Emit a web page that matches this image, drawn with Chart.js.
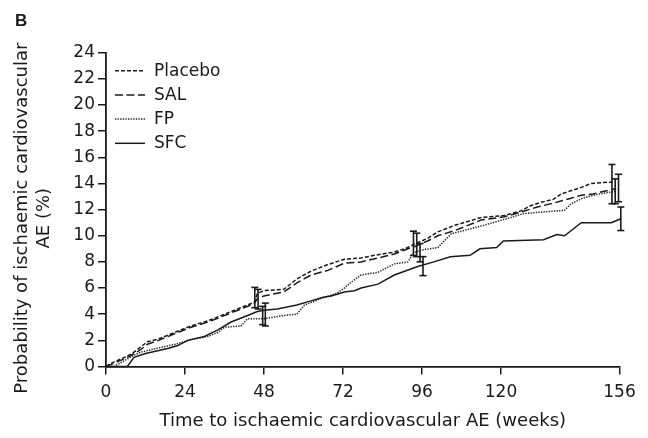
<!DOCTYPE html>
<html>
<head>
<meta charset="utf-8">
<script src="https://cdn.jsdelivr.net/npm/chart.js@4/dist/chart.umd.min.js"></script>
<style>
  html, body { margin: 0; padding: 0; background: #fff; }
  #wrap { width: 648px; height: 438px; }
</style>
</head>
<body>
<div id="wrap"><canvas id="c" width="648" height="438"></canvas></div>
<script>
// ---- Data ----
const panelLabel = 'B';
const seriesNames = ['Placebo', 'SAL', 'FP', 'SFC'];
const xTickValues = [0, 24, 48, 72, 96, 120, 156];
const xTitle = 'Time to ischaemic cardiovascular AE (weeks)';
const yTitle = ['Probability of ischaemic cardiovascular   ', 'AE (%)   '];

const placeboWeeks  = [0, 2, 5.6, 8, 10.6, 12.6, 16, 20.8, 25.8, 31, 36, 41, 45, 46, 48, 54, 58, 62.3, 67.4, 72.4, 77.5, 82.6, 87.6, 91.7, 94, 97.7, 100.8, 106, 114, 121, 126, 129, 132, 136, 138.3, 144.4, 147.4, 153, 154];
const placeboValues = [0, 0.3, 0.7, 1.0, 1.5, 1.9, 2.1, 2.6, 3.1, 3.5, 4.0, 4.5, 4.9, 5.6, 5.8, 5.9, 6.7, 7.3, 7.8, 8.2, 8.3, 8.55, 8.75, 9.1, 9.4, 9.8, 10.3, 10.8, 11.4, 11.55, 11.9, 12.3, 12.55, 12.8, 13.2, 13.7, 14.0, 14.1, 14.1];

const salWeeks  = [0, 2, 5.6, 8, 10.6, 12.6, 16, 20.8, 25.8, 31, 36, 41, 45, 46, 48, 54, 58, 62.3, 67.4, 72.4, 77.5, 82.6, 87.6, 91.7, 94, 97.7, 100.8, 106, 114, 121, 126, 131, 136, 141, 144.4, 148, 153, 155];
const salValues = [0, 0.2, 0.6, 0.9, 1.3, 1.7, 2.0, 2.5, 3.0, 3.4, 3.9, 4.4, 4.8, 5.2, 5.4, 5.7, 6.4, 7.0, 7.35, 7.9, 8.0, 8.3, 8.6, 9.0, 9.2, 9.6, 10.0, 10.4, 11.2, 11.45, 11.8, 12.2, 12.5, 12.85, 13.1, 13.2, 13.5, 13.6];

const fpWeeks  = [0, 2.5, 5.6, 8, 10.6, 15.7, 21.8, 25.8, 31, 34, 36, 41, 43, 48, 54, 58, 60.3, 66.4, 70.2, 72.4, 74.5, 77.5, 82.6, 87.6, 91.7, 93.5, 95.7, 100.8, 104.9, 114.8, 123, 127, 139.3, 141.3, 145, 150, 154.7];
const fpValues = [0, 0, 0.45, 0.8, 1.1, 1.4, 1.75, 2.05, 2.3, 2.6, 3.0, 3.1, 3.65, 3.65, 3.9, 4.0, 4.7, 5.3, 5.6, 6.0, 6.45, 7.0, 7.2, 7.85, 8.0, 8.7, 8.9, 9.1, 10.15, 10.8, 11.4, 11.7, 11.95, 12.45, 12.9, 13.2, 13.4];

const sfcWeeks  = [0, 6.5, 8.5, 12, 15.7, 19, 21.8, 24.8, 29.9, 34, 38, 43, 46, 48, 52, 58, 62, 66, 68.4, 72.4, 75.5, 77.5, 82.6, 87.6, 94.7, 99.6, 104.6, 110.6, 113.6, 118.7, 120.7, 132.9, 137, 139.3, 144.4, 153.5, 156.4];
const sfcValues = [0, 0, 0.7, 1.0, 1.2, 1.4, 1.6, 2.0, 2.3, 2.8, 3.4, 3.9, 4.2, 4.3, 4.4, 4.7, 5.0, 5.3, 5.4, 5.7, 5.8, 6.0, 6.3, 7.0, 7.65, 8.0, 8.4, 8.5, 9.0, 9.1, 9.6, 9.7, 10.1, 10.0, 11.0, 11.0, 11.3];

// error bars (week position, low, high) per series
const placeboErrWeeks = [45.2, 93.4, 153.7];
const placeboErrLow   = [4.5, 8.5, 12.45];
const placeboErrHigh  = [6.05, 10.35, 15.45];
const salErrWeeks = [46.2, 94.4, 155.7];
const salErrLow   = [4.4, 8.4, 12.6];
const salErrHigh  = [5.9, 10.2, 14.7];
const fpErrWeeks = [47.6, 95.4, 154.7];
const fpErrLow   = [3.2, 8.0, 12.45];
const fpErrHigh  = [4.6, 9.4, 14.35];
const sfcErrWeeks = [48.4, 96.3, 156.4];
const sfcErrLow   = [3.1, 6.95, 10.4];
const sfcErrHigh  = [4.85, 8.4, 12.2];

// ---- Build datasets ----
const INK = '#1a1a1a';
const FONT = "'DejaVu Sans', Verdana, sans-serif";
const toPts = (xs, ys) => xs.map((x, i) => ({ x: x, y: ys[i] }));

const dashes = [[4, 2], [8, 3.5], [1.3, 1.3], []];
const weeksAll = [placeboWeeks, salWeeks, fpWeeks, sfcWeeks];
const valuesAll = [placeboValues, salValues, fpValues, sfcValues];
const errW = [placeboErrWeeks, salErrWeeks, fpErrWeeks, sfcErrWeeks];
const errL = [placeboErrLow, salErrLow, fpErrLow, sfcErrLow];
const errH = [placeboErrHigh, salErrHigh, fpErrHigh, sfcErrHigh];

const datasets = [];
seriesNames.forEach((name, i) => {
  datasets.push({
    label: name,
    data: toPts(weeksAll[i], valuesAll[i]),
    borderColor: INK,
    backgroundColor: INK,
    borderWidth: 1.5,
    borderDash: dashes[i],
    pointRadius: 0,
    tension: 0,
    fill: false,
    clip: false,
    isSeries: true
  });
});
seriesNames.forEach((name, i) => {
  errW[i].forEach((w, j) => {
    datasets.push({
      label: name + ' CI',
      data: [{ x: w, y: errL[i][j] }, { x: w, y: errH[i][j] }],
      borderColor: INK,
      backgroundColor: INK,
      borderWidth: 1.6,
      pointStyle: 'line',
      pointRadius: 3.5,
      pointBorderWidth: 1.6,
      pointBorderColor: INK,
      fill: false,
      clip: false,
      isSeries: false
    });
  });
});

// Panel letter and in-plot legend, drawn from the dataset definitions
const annotPlugin = {
  id: 'annot',
  afterDraw(chart) {
    const ctx = chart.ctx;
    const area = chart.chartArea;
    ctx.save();
    ctx.fillStyle = INK;
    ctx.font = "bold 17px 'Liberation Sans', Arial, sans-serif";
    ctx.textBaseline = 'alphabetic';
    ctx.textAlign = 'left';
    ctx.fillText(panelLabel, 15, 25.5);

    ctx.font = "17px " + FONT;
    ctx.textBaseline = 'middle';
    chart.data.datasets.filter(d => d.isSeries).forEach((d, i) => {
      const y = area.top + 18 + i * 24.2;
      const x0 = area.left + 9;
      ctx.strokeStyle = d.borderColor;
      ctx.lineWidth = d.borderWidth;
      ctx.setLineDash(d.borderDash);
      ctx.beginPath();
      ctx.moveTo(x0, y);
      ctx.lineTo(x0 + 30, y);
      ctx.stroke();
      ctx.setLineDash([]);
      ctx.fillText(d.label, x0 + 39, y + 0.5);
    });
    ctx.restore();
  }
};

new Chart(document.getElementById('c'), {
  type: 'line',
  data: { datasets: datasets },
  options: {
    responsive: false,
    devicePixelRatio: 1,
    animation: false,
    events: [],
    layout: { padding: { top: 52.7, right: 28.5, left: 0, bottom: 0 } },
    plugins: {
      tooltip: { enabled: false },
      legend: { display: false }
    },
    scales: {
      x: {
        type: 'linear',
        min: 0,
        max: 156,
        afterBuildTicks: (s) => { s.ticks = xTickValues.map(v => ({ value: v })); },
        afterFit: (s) => { s.height = 71.5; },
        grid: { display: true, drawOnChartArea: false, drawTicks: true, tickLength: 8, color: INK, lineWidth: 1.5 },
        border: { display: true, color: INK, width: 1.8 },
        ticks: { color: INK, padding: 8, maxRotation: 0, autoSkip: false, font: { family: FONT, size: 17 } },
        title: { display: true, text: xTitle, color: INK, padding: { top: 0, bottom: 6 }, font: { family: FONT, size: 18 } }
      },
      y: {
        type: 'linear',
        min: 0,
        max: 24,
        afterFit: (s) => { s.width = 106; },
        grid: { display: true, drawOnChartArea: false, drawTicks: true, tickLength: 8, color: INK, lineWidth: 1.5 },
        border: { display: true, color: INK, width: 1.8 },
        ticks: { stepSize: 2, color: INK, padding: 3, font: { family: FONT, size: 17 } },
        title: { display: true, text: yTitle, color: INK, padding: { top: 12, bottom: 0 }, font: { family: FONT, size: 18 } }
      }
    }
  },
  plugins: [annotPlugin]
});
</script>
</body>
</html>
